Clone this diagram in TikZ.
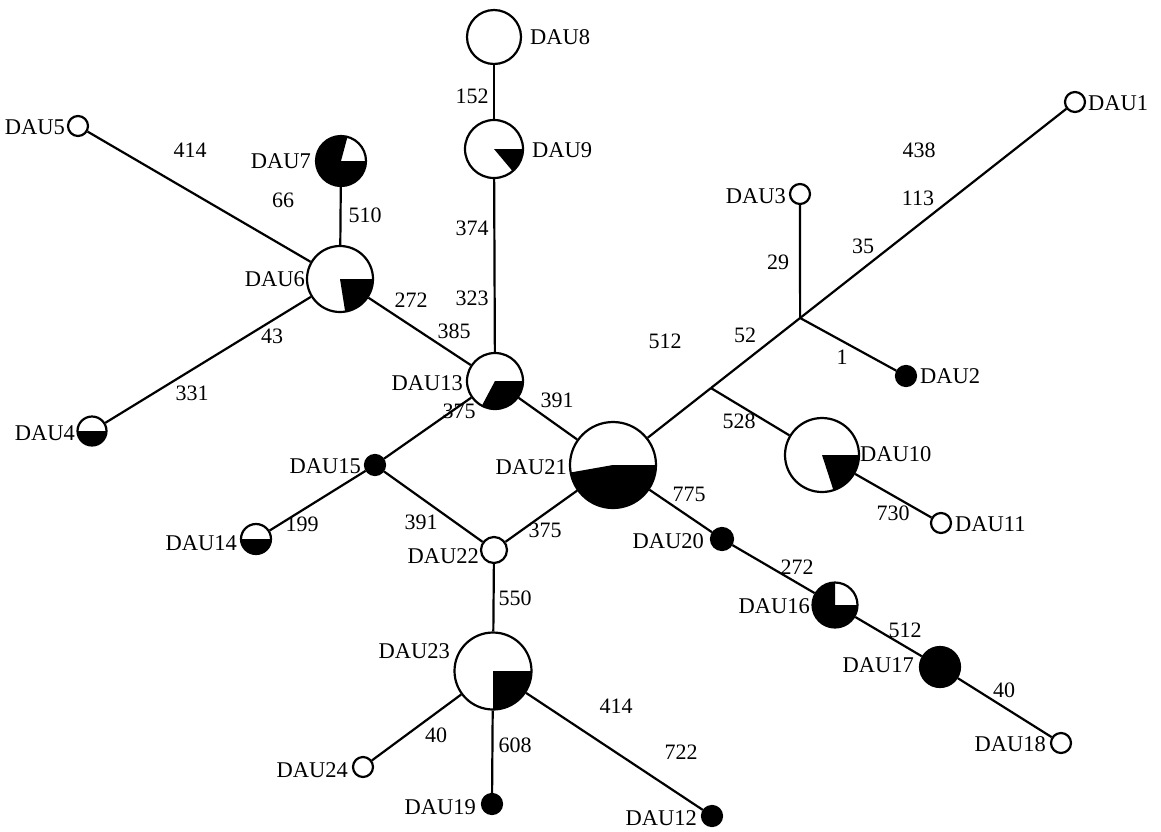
\documentclass[tikz,border=0pt]{standalone}
\usepackage{fontspec}
\setmainfont{Liberation Serif}
\usetikzlibrary{calc}
\begin{document}
\begin{tikzpicture}[x=1pt,y=1pt,
  hap/.style={circle,draw=black,line width=2.2pt,fill=white,inner sep=0pt,minimum size=#1},
  blk/.style={circle,draw=black,line width=2.2pt,fill=black,inner sep=0pt,minimum size=#1},
  sect/.style 2 args={path picture={\fill[black] (path picture bounding box.center) -- +(#1:200) arc[start angle=#1,end angle=#2,radius=200] -- cycle;}},
  lab/.style={font=\fontsize{22.5}{26}\selectfont,inner sep=0pt},
  labl/.style={lab,anchor=east},
  labr/.style={lab,anchor=west},
  num/.style={font=\fontsize{22}{24}\selectfont,inner sep=0pt},
  edge/.style={line width=2.2pt}]
\useasboundingbox (0,0) rectangle (1161,-831);
% haplotype circles
\node[hap=54] (d8) at (494,-37) {};
\node[hap=58,sect={-50}{0}] (d9) at (494,-149) {};
\node[hap=50,sect={75}{360}] (d7) at (341,-161) {};
\node[hap=20] (d5) at (78,-126) {};
\node[hap=66,sect={-81}{0}] (d6) at (340,-279) {};
\node[hap=29,sect={180}{360}] (d4) at (92,-431) {};
\node[hap=56,sect={-118}{0}] (d13) at (495,-381) {};
\node[blk=20] (d15) at (375,-465) {};
\node[hap=30,sect={180}{360}] (d14) at (256,-539) {};
\node[hap=26] (d22) at (494,-550) {};
\node[hap=86,sect={190}{360}] (d21) at (613,-465) {};
\node[blk=22] (d20) at (722,-539) {};
\node[hap=45,sect={90}{360}] (d16) at (835,-605) {};
\node[blk=40] (d17) at (940,-667) {};
\node[hap=20] (d18) at (1061,-743) {};
\node[hap=74,sect={-72}{0}] (d10) at (822,-455) {};
\node[hap=20] (d11) at (941,-523) {};
\node[blk=20] (d2) at (906,-376) {};
\node[hap=20] (d3) at (800,-194) {};
\node[hap=20] (d1) at (1075,-102) {};
\node[hap=77,sect={270}{360}] (d23) at (493,-671) {};
\node[hap=20] (d24) at (363,-767) {};
\node[blk=20] (d19) at (492,-804) {};
\node[blk=20] (d12) at (712,-816) {};
% median vectors
\coordinate (j2) at ($(d21)!0.212!(d1)$);
\coordinate (j1) at ($(d21)!0.405!(d1)$);
% connectors
\draw[edge] (d8) -- (d9);
\draw[edge] (d9) -- (d13);
\draw[edge] (d7) -- (d6);
\draw[edge] (d5) -- (d6);
\draw[edge] (d4) -- (d6);
\draw[edge] (d6) -- (d13);
\draw[edge] (d13) -- (d21);
\draw[edge] (d13) -- (d15);
\draw[edge] (d15) -- (d14);
\draw[edge] (d15) -- (d22);
\draw[edge] (d22) -- (d21);
\draw[edge] (d22) -- (d23);
\draw[edge] (d23) -- (d24);
\draw[edge] (d23) -- (d19);
\draw[edge] (d23) -- (d12);
\draw[edge] (d21) -- (j2);
\draw[edge] (j2) -- (j1);
\draw[edge] (j1) -- (d1);
\draw[edge] (j1) -- (d3);
\draw[edge] (j1) -- (d2);
\draw[edge] (j2) -- (d10);
\draw[edge] (d10) -- (d11);
\draw[edge] (d21) -- (d20);
\draw[edge] (d20) -- (d16);
\draw[edge] (d16) -- (d17);
\draw[edge] (d17) -- (d18);
% haplotype labels
\node[labr] (l8) at (530,-37) {DAU8};
\node[labr] (l9) at (532,-150) {DAU9};
\node[labl] (l7) at (311,-161) {DAU7};
\node[labl] (l5) at (65,-127) {DAU5};
\node[labl] (l6) at (305,-279) {DAU6};
\node[labl] (l4) at (75,-433) {DAU4};
\node[labl] (l13) at (463,-383) {DAU13};
\node[labl] (l15) at (361,-466) {DAU15};
\node[labl] (l14) at (237,-543) {DAU14};
\node[labl] (l22) at (479,-556) {DAU22};
\node[labl] (l21) at (567,-467) {DAU21};
\node[labl] (l20) at (704,-541) {DAU20};
\node[labl] (l16) at (810,-606) {DAU16};
\node[labl] (l17) at (914,-665) {DAU17};
\node[labl] (l18) at (1046,-744) {DAU18};
\node[labr] (l10) at (860,-454) {DAU10};
\node[labr] (l11) at (955,-524) {DAU11};
\node[labr] (l2) at (920,-376) {DAU2};
\node[labl] (l3) at (786,-196) {DAU3};
\node[labr] (l1) at (1088,-103) {DAU1};
\node[labl] (l23) at (450,-651) {DAU23};
\node[labl] (l24) at (348,-770) {DAU24};
\node[labl] (l19) at (476,-807) {DAU19};
\node[labl] (l12) at (697,-818) {DAU12};
% mutation counts
\node[num] (n1) at (472,-96) {152};
\node[num] (n2) at (472,-228) {374};
\node[num] (n3) at (472,-298) {323};
\node[num] (n4) at (190,-150) {414};
\node[num] (n5) at (283,-200) {66};
\node[num] (n6) at (365,-215) {510};
\node[num] (n7) at (411,-300) {272};
\node[num] (n8) at (454,-331) {385};
\node[num] (n9) at (272,-336) {43};
\node[num] (n10) at (192,-393) {331};
\node[num] (n11) at (557,-400) {391};
\node[num] (n12) at (459,-411) {375};
\node[num] (n13) at (421,-522) {391};
\node[num] (n14) at (302,-524) {199};
\node[num] (n15) at (545,-530) {375};
\node[num] (n16) at (515,-598) {550};
\node[num] (n17) at (665,-341) {512};
\node[num] (n18) at (745,-335) {52};
\node[num] (n19) at (842,-357) {1};
\node[num] (n20) at (778,-262) {29};
\node[num] (n21) at (863,-246) {35};
\node[num] (n22) at (918,-198) {113};
\node[num] (n23) at (919,-150) {438};
\node[num] (n24) at (739,-421) {528};
\node[num] (n25) at (893,-513) {730};
\node[num] (n26) at (689,-494) {775};
\node[num] (n27) at (797,-567) {272};
\node[num] (n28) at (905,-630) {512};
\node[num] (n29) at (1004,-690) {40};
\node[num] (n30) at (616,-706) {414};
\node[num] (n31) at (681,-752) {722};
\node[num] (n32) at (436,-735) {40};
\node[num] (n33) at (515,-745) {608};
\end{tikzpicture}
\end{document}
